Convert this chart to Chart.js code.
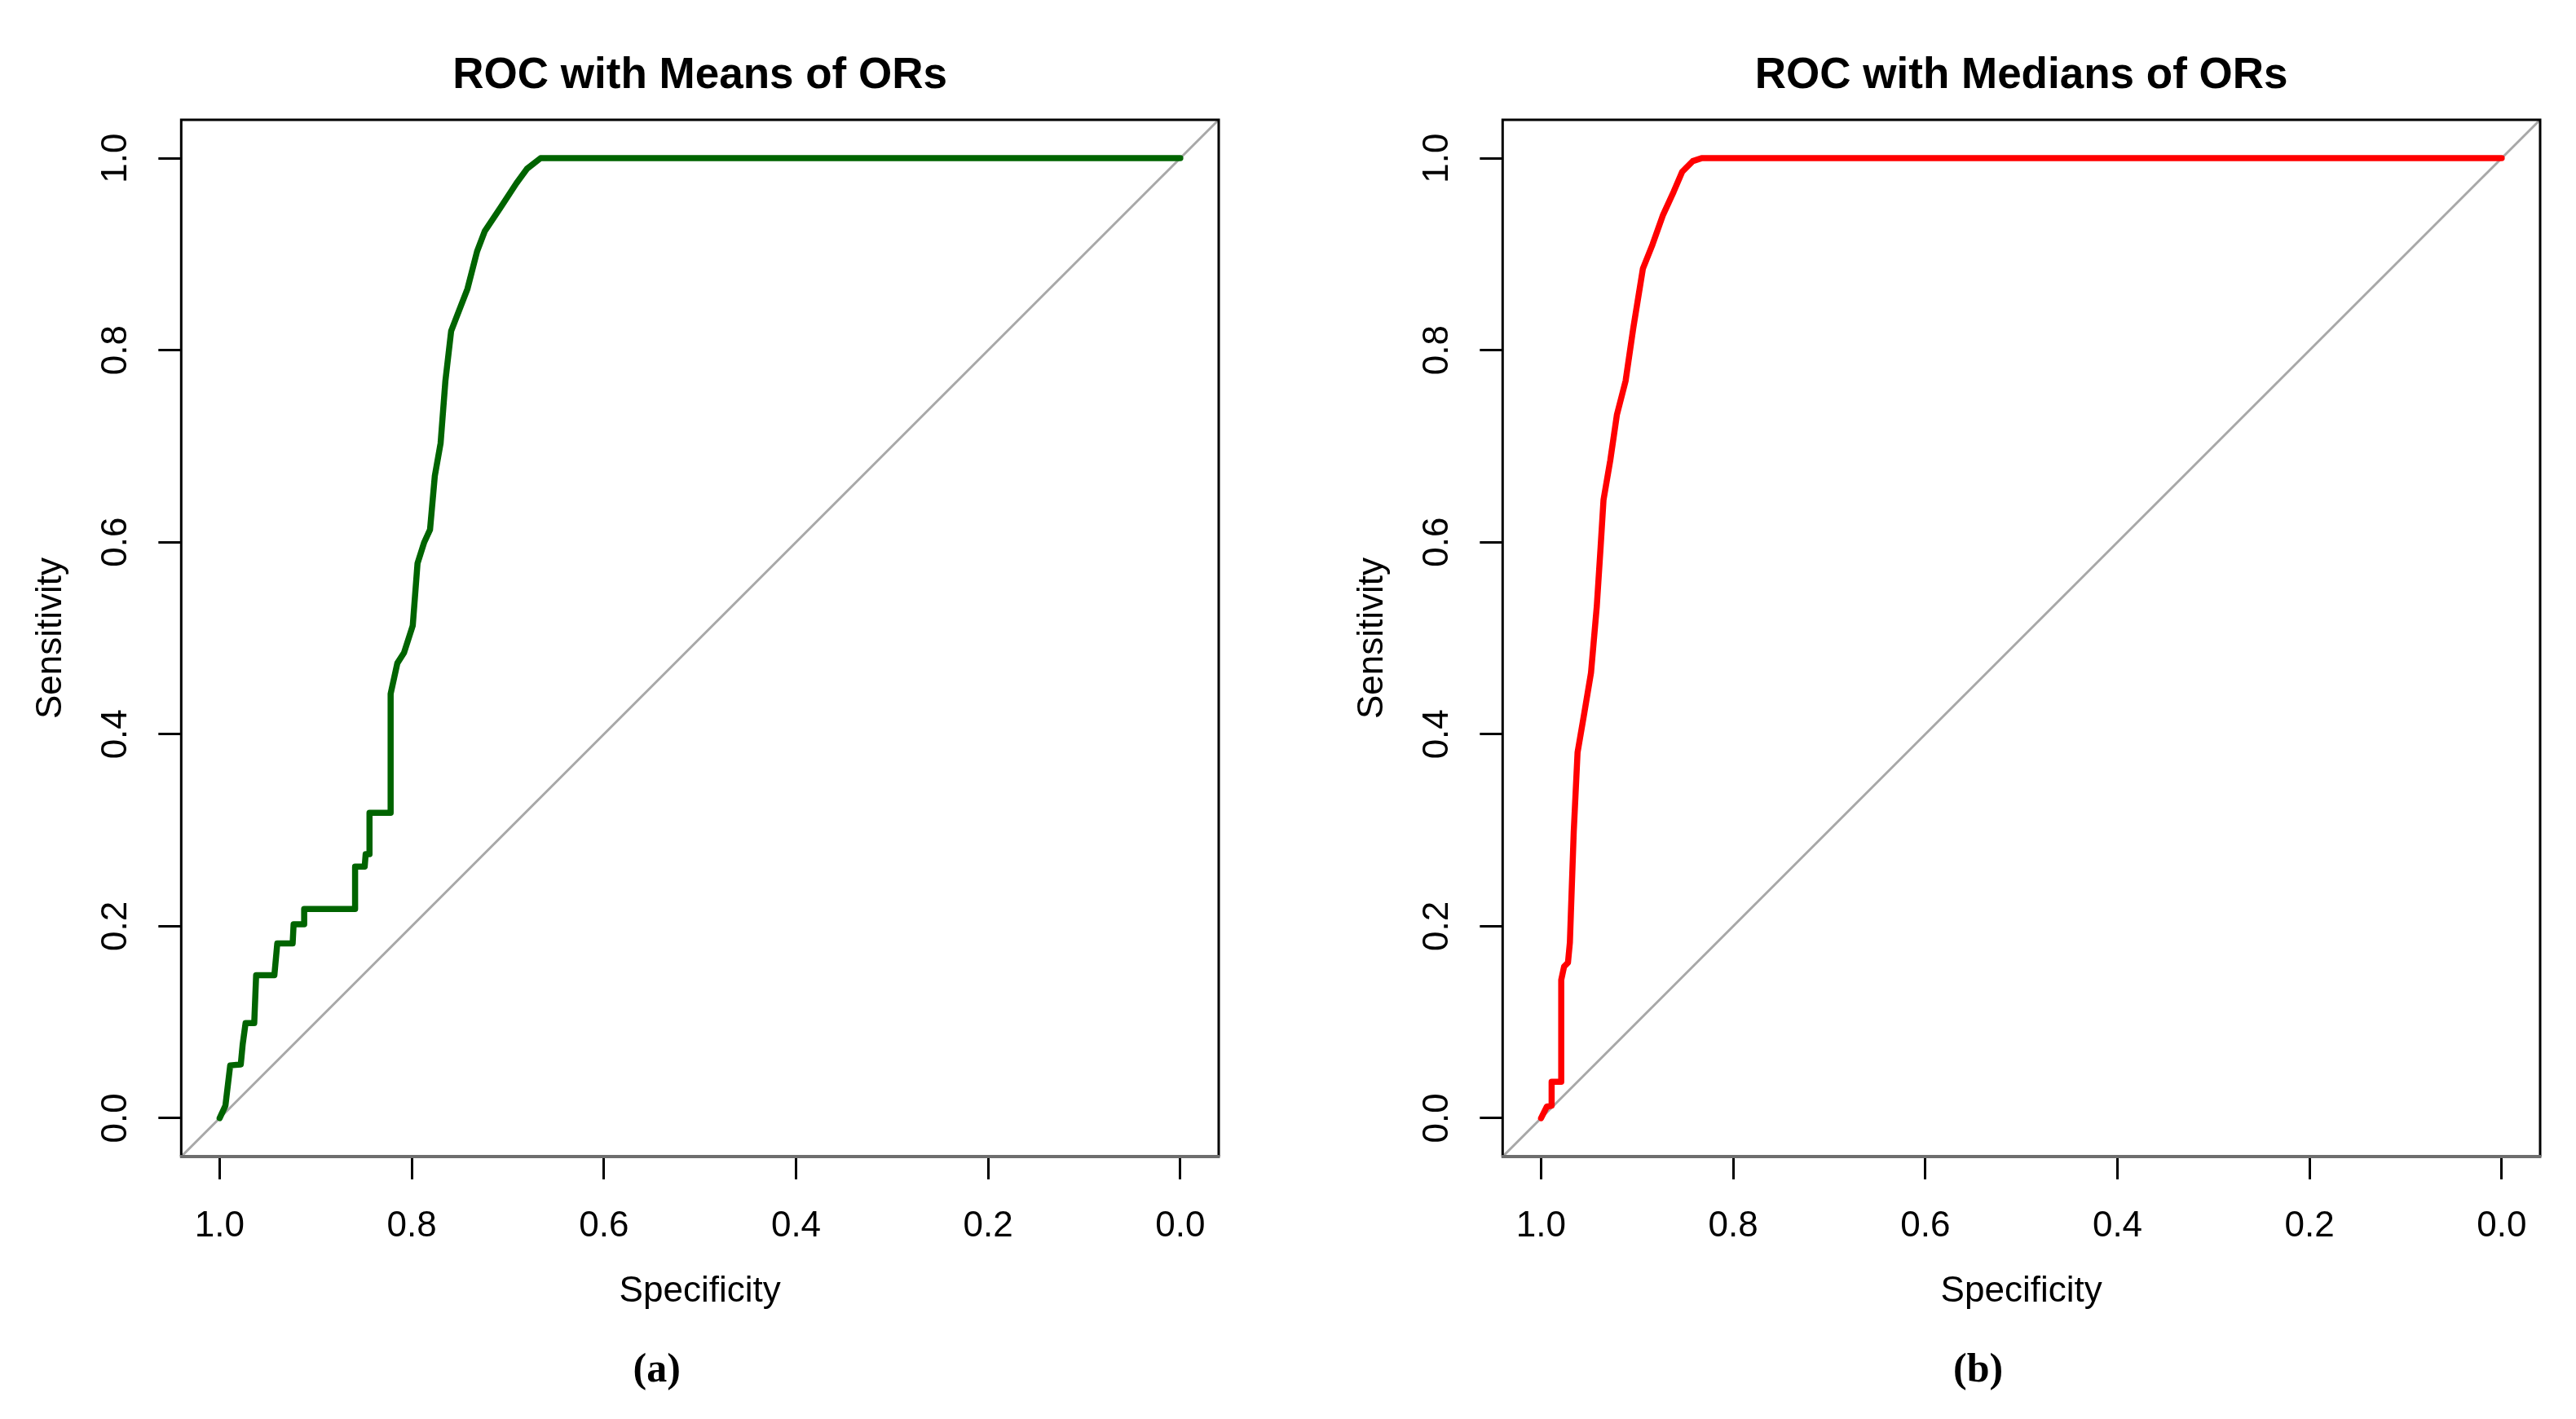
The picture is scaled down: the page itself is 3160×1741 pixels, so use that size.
<!DOCTYPE html>
<html>
<head>
<meta charset="utf-8">
<title>ROC with Means / Medians of ORs</title>
<script src="https://cdn.jsdelivr.net/npm/chart.js@4.4.1/dist/chart.umd.min.js"></script>
<style>
  html, body { margin: 0; padding: 0; background: #fff; }
  canvas { position: absolute; top: 0; }
</style>
</head>
<body>
<canvas id="rocMeans" width="1621" height="1741" style="left:0;width:1621px;height:1741px"></canvas>
<canvas id="rocMedians" width="1539" height="1741" style="left:1621px;width:1539px;height:1741px"></canvas>
<script>
// panel (a): ROC with means of ORs
const meanSpec = [1.000, 0.994, 0.989, 0.978, 0.976, 0.973, 0.964, 0.962, 0.943, 0.940,
                  0.924, 0.923, 0.912, 0.912, 0.859, 0.859, 0.849, 0.848, 0.844, 0.844,
                  0.822, 0.822, 0.815, 0.808, 0.799, 0.794, 0.787, 0.781, 0.776, 0.770,
                  0.765, 0.759, 0.754, 0.742, 0.732, 0.724, 0.708, 0.691, 0.680, 0.666, 0.000];
const meanSens = [0.000, 0.013, 0.055, 0.056, 0.077, 0.099, 0.099, 0.149, 0.149, 0.182,
                  0.182, 0.202, 0.202, 0.218, 0.218, 0.262, 0.262, 0.275, 0.275, 0.318,
                  0.318, 0.442, 0.474, 0.485, 0.513, 0.578, 0.600, 0.613, 0.669, 0.703,
                  0.768, 0.820, 0.833, 0.864, 0.903, 0.924, 0.948, 0.974, 0.989, 1.000, 1.000];

// panel (b): ROC with medians of ORs
const medianSpec = [1.000, 0.994, 0.989, 0.989, 0.979, 0.979, 0.976, 0.972, 0.970, 0.969,
                    0.966, 0.962, 0.955, 0.948, 0.942, 0.938, 0.935, 0.928, 0.921, 0.912,
                    0.904, 0.894, 0.884, 0.873, 0.862, 0.853, 0.842, 0.833, 0.000];
const medianSens = [0.000, 0.012, 0.013, 0.038, 0.038, 0.144, 0.158, 0.162, 0.183, 0.212,
                    0.298, 0.381, 0.422, 0.464, 0.533, 0.595, 0.644, 0.685, 0.733, 0.768,
                    0.823, 0.885, 0.910, 0.941, 0.965, 0.986, 0.997, 1.000, 1.000];

const tickValues = [0, 0.2, 0.4, 0.6, 0.8, 1.0];
const axisLimits = [-0.04, 1.04];

// layout (canvas pixels)
const PLOT_TOP = 147;
const PLOT_BOTTOM = 1419;
const Y_AXIS_WIDTH = 222.3;
const CANVAS_H = 1741;

Chart.defaults.font.family = "'Liberation Sans', Arial, sans-serif";
Chart.defaults.color = "#000";

const boxPlugin = {
  id: "rBox",
  afterDatasetsDraw(chart) {
    const { ctx, chartArea: a } = chart;
    ctx.save();
    ctx.strokeStyle = "#000";
    ctx.lineWidth = 3;
    ctx.beginPath();
    ctx.moveTo(a.left, a.bottom);
    ctx.lineTo(a.left, a.top);
    ctx.lineTo(a.right, a.top);
    ctx.lineTo(a.right, a.bottom);
    ctx.stroke();
    ctx.strokeStyle = "#6e6e6e";
    ctx.lineWidth = 4;
    ctx.beginPath();
    ctx.moveTo(a.left - 1.5, a.bottom);
    ctx.lineTo(a.right + 1.5, a.bottom);
    ctx.stroke();
    ctx.restore();
  }
};

function captionPlugin(text) {
  return {
    id: "caption",
    afterDraw(chart) {
      const { ctx, chartArea: a } = chart;
      ctx.save();
      ctx.font = "bold 50px 'Liberation Serif', 'Times New Roman', serif";
      ctx.fillStyle = "#000";
      ctx.textAlign = "center";
      ctx.textBaseline = "middle";
      ctx.fillText(text, (a.left + a.right) / 2 - 53, 1682);
      ctx.restore();
    }
  };
}

const fixTicks = (s) => { s.ticks = tickValues.map(v => ({ value: v })); };
const tickGrid = { drawOnChartArea: false, drawTicks: true, tickLength: 28, color: "#000", lineWidth: 3 };

function rocChart(id, title, spec, sens, color, caption, padRight) {
  const curve = spec.map((x, i) => ({ x: x, y: sens[i] }));
  const diagonal = [
    { x: axisLimits[1], y: axisLimits[0] },
    { x: axisLimits[0], y: axisLimits[1] }
  ];

  return new Chart(document.getElementById(id), {
    type: "scatter",
    data: {
      datasets: [
        {
          data: curve,
          showLine: true,
          borderColor: color,
          borderWidth: 7.5,
          pointRadius: 0,
          borderJoinStyle: "round",
          borderCapStyle: "round"
        },
        {
          data: diagonal,
          showLine: true,
          borderColor: "#a8a8a8",
          borderWidth: 3,
          pointRadius: 0
        }
      ]
    },
    options: {
      responsive: false,
      animation: false,
      devicePixelRatio: 1,
      events: [],
      layout: { padding: { left: 0, right: padRight, top: 0, bottom: 0 } },
      plugins: {
        legend: { display: false },
        tooltip: { enabled: false },
        title: {
          display: true,
          text: title,
          fullSize: false,
          color: "#000",
          font: { size: 53, weight: "bold" },
          padding: { top: 62, bottom: PLOT_TOP - 62 - 63.6 }
        }
      },
      scales: {
        x: {
          type: "linear",
          reverse: true,
          min: axisLimits[0],
          max: axisLimits[1],
          afterBuildTicks: fixTicks,
          afterFit: (s) => { s.height = CANVAS_H - PLOT_BOTTOM; },
          grid: tickGrid,
          border: { display: false },
          ticks: {
            font: { size: 44 },
            color: "#000",
            padding: 31,
            maxRotation: 0,
            autoSkip: false,
            callback: (v) => Number(v).toFixed(1)
          },
          title: {
            display: true,
            text: "Specificity",
            color: "#000",
            font: { size: 44 },
            padding: { top: 0, bottom: 130 }
          }
        },
        y: {
          type: "linear",
          min: axisLimits[0],
          max: axisLimits[1],
          afterBuildTicks: fixTicks,
          afterFit: (s) => { s.width = Y_AXIS_WIDTH; },
          grid: tickGrid,
          border: { display: false },
          ticks: {
            font: { size: 44 },
            color: "#000",
            padding: 21,
            minRotation: 90,
            maxRotation: 90,
            crossAlign: "center",
            autoSkip: false,
            callback: (v) => Number(v).toFixed(1)
          },
          title: {
            display: true,
            text: "Sensitivity",
            color: "#000",
            font: { size: 44 },
            padding: { top: 36.6, bottom: 0 }
          }
        }
      }
    },
    plugins: [boxPlugin, captionPlugin(caption)]
  });
}

rocChart("rocMeans", "ROC with Means of ORs", meanSpec, meanSens, "#006400", "(a)", 126);
rocChart("rocMedians", "ROC with Medians of ORs", medianSpec, medianSens, "#ff0000", "(b)", 44);
</script>
</body>
</html>
